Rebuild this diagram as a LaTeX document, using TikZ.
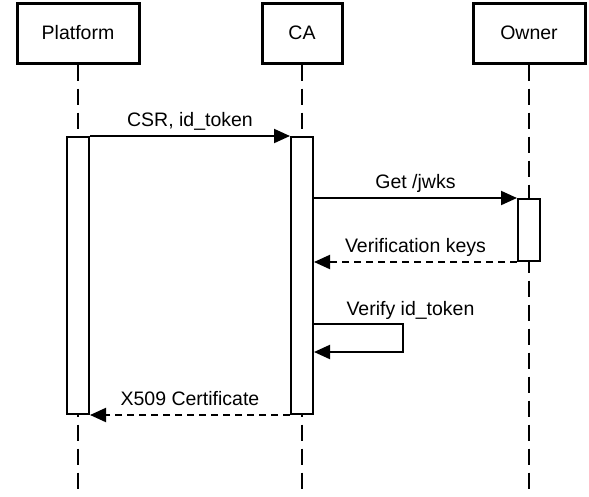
\documentclass[tikz,border=0pt]{standalone}
\usepackage{fontspec}
\setmainfont{Liberation Sans}
\usetikzlibrary{arrows.meta, positioning}

\tikzset{
    actor/.style={draw, line width=3pt, minimum height=60pt, inner sep=0pt},
    lifeline/.style={line width=1.8pt, dash pattern=on 16pt off 8pt},
    activation/.style={draw, fill=white, line width=2pt, minimum width=22pt, inner sep=0pt},
    msg/.style={line width=2pt, -{Triangle[length=16pt, width=14pt]}},
    reply/.style={msg, dash pattern=on 7pt off 5pt},
    lbl/.style={anchor=base, yshift=9.5pt}
}

\begin{document}
\begin{tikzpicture}[x=1pt, y=-1pt, every node/.style={font=\fontsize{19.5}{23}\selectfont}]
                        \useasboundingbox (0, 0) rectangle (589, 496);

                        % participants
                        \node[actor, minimum width=122pt] (platform) at (78, 33) {Platform};
                        \node[actor, minimum width=80pt] (ca) at (302, 33) {CA};
                        \node[actor, minimum width=112pt] (owner) at (529, 33) {Owner};
                        \coordinate (bottom) at (0, 496);

                        \draw[lifeline] (platform.south) -- (platform.south |- bottom);
                        \draw[lifeline] (ca.south) -- (ca.south |- bottom);
                        \draw[lifeline] (owner.south) -- (owner.south |- bottom);

                        % activations
                        \node[activation, minimum height=277pt] (actP) at (78, 275.5) {};
                        \node[activation, minimum height=277pt] (actCA) at (302, 275.5) {};
                        \node[activation, minimum height=62pt] (actO) at (529, 230) {};

                        \coordinate (vfy) at (403, 324);
                        \coordinate (vfyEnd) at (403, 352);

                        \draw
                        (actP.north east) edge[msg] node[lbl, midway] {CSR, id\_token} (actCA.north west)
                        (actCA.east |- actO.north) edge[msg] node[lbl, midway] {Get /jwks} (actO.north west)
                        (actO.south west) edge[reply] node[lbl, midway] {Verification keys} (actCA.east |- actO.south)
                        (actCA.south west) edge[reply] node[lbl, midway] {X509 Certificate} (actP.south east);

                        \draw[msg] (actCA.east |- vfy) -- (vfy) |- (actCA.east |- vfyEnd);
                        \node[anchor=base west] (vfyLabel) at (343, 315) {Verify id\_token};
                    \end{tikzpicture}
\end{document}
